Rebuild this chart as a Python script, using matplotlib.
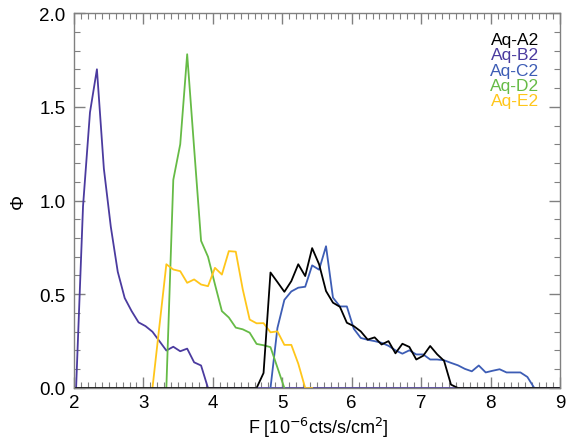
import matplotlib
matplotlib.use('Agg')
import matplotlib.pyplot as plt
from matplotlib.ticker import MultipleLocator, FormatStrFormatter

plt.rcParams['font.family'] = ['Liberation Sans', 'DejaVu Sans']

# flux bins [1e-6 cts/s/cm^2] and distribution values for each source
f_a2 = [2.0, 4.63, 4.73, 4.83, 4.93, 5.03, 5.13, 5.23, 5.33, 5.43, 5.53, 5.63, 5.73,
        5.83, 5.93, 6.03, 6.13, 6.23, 6.33, 6.43, 6.53, 6.63, 6.73, 6.83, 6.93,
        7.03, 7.13, 7.23, 7.33, 7.43, 7.53, 9.0]
phi_a2 = [0.0, 0.0, 0.08, 0.616, 0.565, 0.513, 0.57, 0.66, 0.597, 0.746, 0.66, 0.517,
          0.455, 0.433, 0.348, 0.33, 0.302, 0.258, 0.27, 0.232, 0.25, 0.185, 0.236,
          0.219, 0.152, 0.172, 0.224, 0.18, 0.145, 0.018, 0.0, 0.0]

f_b2 = [2.03, 2.13, 2.23, 2.33, 2.43, 2.53, 2.63, 2.73, 2.83, 2.93, 3.03, 3.13, 3.23,
        3.33, 3.43, 3.53, 3.63, 3.73, 3.83, 3.93, 9.0]
phi_b2 = [0.0, 0.97, 1.47, 1.70, 1.17, 0.86, 0.62, 0.48, 0.41, 0.35, 0.33, 0.30, 0.25,
          0.20, 0.22, 0.196, 0.21, 0.137, 0.12, 0.0, 0.0]

f_c2 = [4.83, 4.93, 5.03, 5.13, 5.23, 5.33, 5.43, 5.53, 5.63, 5.73, 5.83, 5.93, 6.03,
        6.13, 6.23, 6.33, 6.43, 6.53, 6.63, 6.73, 6.83, 6.93, 7.03, 7.13, 7.23, 7.33,
        7.43, 7.53, 7.63, 7.73, 7.83, 7.93, 8.03, 8.13, 8.23, 8.33, 8.43, 8.53, 8.63]
phi_c2 = [0.0, 0.32, 0.47, 0.515, 0.535, 0.54, 0.654, 0.631, 0.756, 0.482, 0.435,
          0.435, 0.316, 0.267, 0.257, 0.25, 0.241, 0.225, 0.201, 0.183, 0.201, 0.179,
          0.179, 0.152, 0.152, 0.148, 0.134, 0.121, 0.102, 0.089, 0.12, 0.083, 0.092,
          0.1, 0.083, 0.083, 0.083, 0.059, 0.0]

f_d2 = [3.33, 3.43, 3.53, 3.63, 3.73, 3.83, 3.93, 4.03, 4.13, 4.23, 4.33, 4.43, 4.53,
        4.63, 4.73, 4.83, 4.93, 5.03]
phi_d2 = [0.0, 1.11, 1.30, 1.78, 1.28, 0.785, 0.70, 0.553, 0.41, 0.376, 0.322, 0.313,
          0.295, 0.235, 0.228, 0.218, 0.109, 0.0]

f_e2 = [3.13, 3.23, 3.33, 3.43, 3.53, 3.63, 3.73, 3.83, 3.93, 4.03, 4.13, 4.23, 4.33,
        4.43, 4.53, 4.63, 4.73, 4.83, 4.93, 5.03, 5.13, 5.23, 5.33, 5.43]
phi_e2 = [0.0, 0.33, 0.66, 0.632, 0.623, 0.561, 0.579, 0.552, 0.543, 0.641, 0.605,
          0.73, 0.727, 0.527, 0.365, 0.345, 0.346, 0.297, 0.302, 0.23, 0.23, 0.13,
          0.0, 0.0]

names = ['Aq-A2', 'Aq-B2', 'Aq-C2', 'Aq-D2', 'Aq-E2']
colors = ['black', '#4b3b9f', '#3d5db5', '#66bb46', '#ffc61a']

fig = plt.figure(figsize=(5.68, 4.39), dpi=100)
ax = fig.add_axes([0.1303, 0.1139, 0.8556, 0.8542])

lw = 1.3
ax.plot(f_b2, phi_b2, color=colors[1], lw=lw)
ax.plot(f_c2, phi_c2, color=colors[2], lw=lw)
ax.plot(f_d2, phi_d2, color=colors[3], lw=lw)
ax.plot(f_e2, phi_e2, color=colors[4], lw=lw)
ax.plot(f_a2, phi_a2, color=colors[0], lw=lw)

ax.set_xlim(2, 9)
ax.set_ylim(0, 2)
ax.xaxis.set_major_locator(MultipleLocator(1))
ax.xaxis.set_minor_locator(MultipleLocator(0.1))
ax.yaxis.set_major_locator(MultipleLocator(0.5))
ax.yaxis.set_minor_locator(MultipleLocator(0.1))
ax.yaxis.set_major_formatter(FormatStrFormatter('%.1f'))

axcol = '#808080'
for s in ax.spines.values():
    s.set_color(axcol)
    s.set_linewidth(1.0)
ax.tick_params(which='both', direction='in', top=True, right=True,
               color=axcol, labelsize=13.5, labelcolor='black')
ax.tick_params(which='major', length=8, width=1.0, pad=6)
ax.tick_params(axis='x', which='major', pad=4)
ax.tick_params(which='minor', length=4, width=0.8)

# axis titles placed in figure coordinates
fig.text(0.56, 0.012, 'F [10$^{-6}$cts/s/cm$^{2}$]', fontsize=13,
         ha='center', va='baseline')
fig.text(0.032, 0.542, 'Φ', fontsize=13.5, rotation=90, ha='center', va='center')

# source names stacked in the upper right corner
for i, (n, c) in enumerate(zip(names, colors)):
    ax.text(0.957, 0.929 - i * 0.0405, n, color=c, fontsize=12.5,
            ha='right', va='center', transform=ax.transAxes)

fig.savefig('out.png', dpi=100)
